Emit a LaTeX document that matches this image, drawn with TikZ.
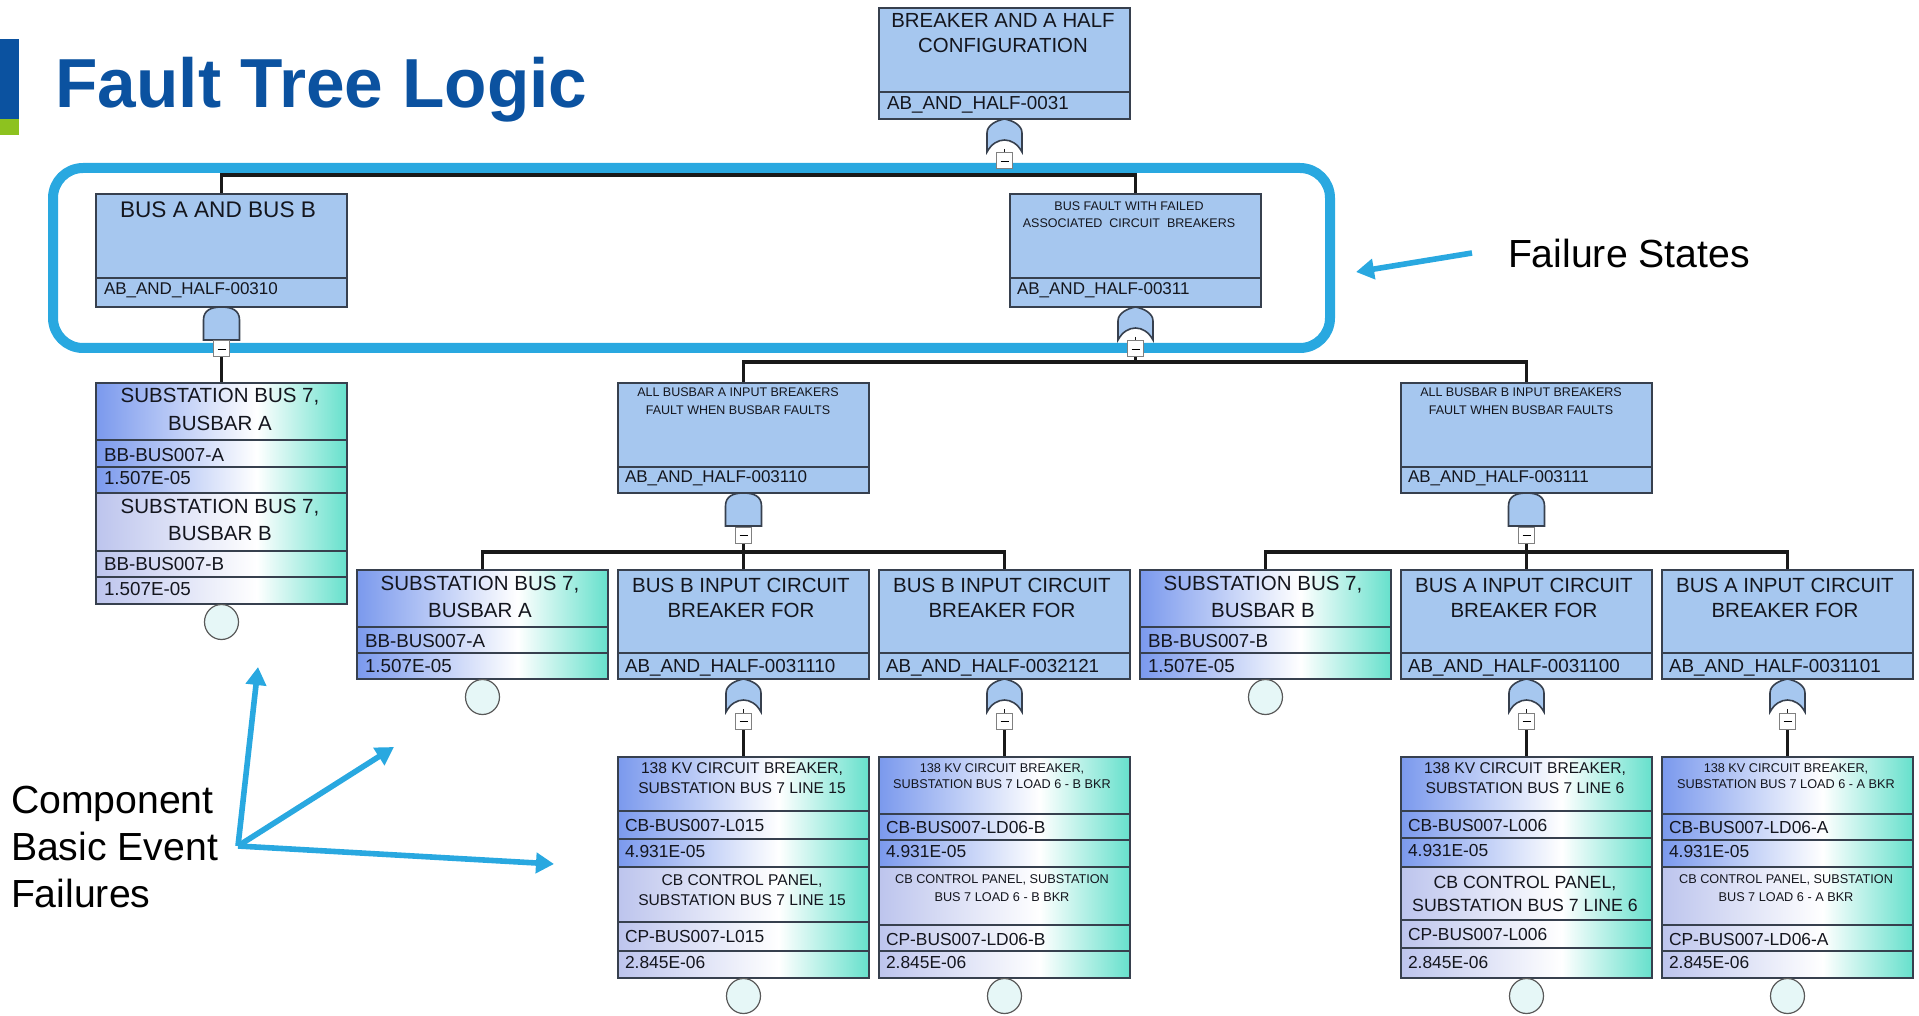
\documentclass[tikz,border=0pt]{standalone}
\usepackage{fontspec}
\setmainfont{Liberation Sans}
\usetikzlibrary{arrows.meta,shapes.geometric}
\pgfdeclarelayer{bg}
\pgfsetlayers{bg,main}
\definecolor{gatefill}{RGB}{166,199,239}
\definecolor{bordc}{RGB}{55,64,78}
\definecolor{titleblue}{RGB}{11,82,160}
\definecolor{barg}{RGB}{141,194,31}
\definecolor{hl}{RGB}{41,168,224}
\definecolor{txtc}{RGB}{20,22,30}
\definecolor{evcirc}{RGB}{230,247,247}
\pgfdeclarehorizontalshading{evA}{100bp}{rgb(0bp)=(0.48,0.60,0.93); rgb(25bp)=(0.48,0.60,0.93); rgb(57bp)=(1,1,1); rgb(75bp)=(0.40,0.88,0.80); rgb(100bp)=(0.40,0.88,0.80)}
\pgfdeclarehorizontalshading{evB}{100bp}{rgb(0bp)=(0.74,0.77,0.93); rgb(25bp)=(0.74,0.77,0.93); rgb(57bp)=(1,1,1); rgb(75bp)=(0.40,0.88,0.80); rgb(100bp)=(0.40,0.88,0.80)}
\newcommand\fTi{\fontsize{34.7pt}{36pt}\selectfont\bfseries}
\newcommand\fGa{\fontsize{10.2pt}{12pt}\selectfont}
\newcommand\fGb{\fontsize{11.3pt}{12pt}\selectfont}
\newcommand\fGs{\fontsize{6.25pt}{7pt}\selectfont}
\newcommand\fId{\fontsize{9.4pt}{10pt}\selectfont}
\newcommand\fIs{\fontsize{8.5pt}{9pt}\selectfont}
\newcommand\fEv{\fontsize{10.25pt}{12pt}\selectfont}
\newcommand\fRa{\fontsize{7.8pt}{9pt}\selectfont}
\newcommand\fRs{\fontsize{6.35pt}{7pt}\selectfont}
\newcommand\fRb{\fontsize{8.85pt}{10pt}\selectfont}
\newcommand\fRi{\fontsize{8.7pt}{10pt}\selectfont}
\newcommand\fAn{\fontsize{19.6pt}{22pt}\selectfont}
\newcommand\ctxt[5]{\node[txt,anchor=base,font=#4] (#1) at (#2,#3) {#5};}
\newcommand\ltxt[5]{\node[txt,anchor=base west,font=#4] (#1) at (#2,#3) {#5};}
\newcommand\gboxN[5]{\node[gboxs,minimum height={(#4-#3)*0.5pt}] (#1) at (#2,#3) {};\draw[bord] (#2,#5) -- ++(251,0);}
\newcommand\eboxN[7]{\node[eboxs,shade,shading=#2,minimum height={(#5-#4)*0.5pt}] (#1) at (#3,#4) {};\draw[bord] (#3,#6) -- ++(251,0);\draw[bord] (#3,#7) -- ++(251,0);}
\newcommand\orgateN[3]{\coordinate (#1) at (#2,#3);\draw[gatesty,shift={(#2,#3)}] (-17.5,33) -- (-17.5,14) .. controls (-17.5,6) and (-8,1.5) .. (0,0) .. controls (8,1.5) and (17.5,6) .. (17.5,14) -- (17.5,33) .. controls (9,17) and (-9,17) .. (-17.5,33) -- cycle;}
\newcommand\andgateN[3]{\coordinate (#1) at (#2,#3);\draw[gatesty,shift={(#2,#3)}] (-18,33) -- (-18,13) .. controls (-18,3) and (-10,0) .. (0,0) .. controls (10,0) and (18,3) .. (18,13) -- (18,33) -- cycle;}
\newcommand\kboxN[3]{\node[kboxs] (#1) at (#2,#3) {\rule{4pt}{0.4pt}};}
\begin{document}
\begin{tikzpicture}[x=0.5pt,y=-0.5pt,
 txt/.style={inner sep=0pt,outer sep=0pt,text=txtc},
 bord/.style={draw=bordc,line width=1pt},
 gboxs/.style={rectangle,draw=bordc,line width=1pt,fill=gatefill,inner sep=0pt,outer sep=0pt,anchor=north west,minimum width=125.5pt},
 eboxs/.style={rectangle,draw=bordc,line width=1pt,inner sep=0pt,outer sep=0pt,anchor=north west,minimum width=125.5pt},
 gatesty/.style={draw=bordc,line width=0.8pt,fill=gatefill},
 kboxs/.style={rectangle,draw=black!50,line width=0.5pt,fill=white,inner sep=0pt,outer sep=0pt,minimum size=8pt},
 conn/.style={draw=black!90,line width=1.6pt},
 evc/.style={ellipse,draw=black!65,fill=evcirc,line width=0.6pt,inner sep=0pt,minimum width=17pt,minimum height=17.5pt},
 hlbox/.style={draw=hl,line width=5pt,rounded corners=15pt},
 harr/.style={draw=hl,line width=2.8pt,-{Triangle[length=9pt,width=10pt]}}
]
\useasboundingbox (0,0) rectangle (1919,1016);
% title
\fill[titleblue] (0,39) rectangle (19,119);
\fill[barg] (0,119) rectangle (19,135);
\node[inner sep=0pt,anchor=base west,font=\fTi,text=titleblue] (title) at (55,108) {Fault Tree Logic};

% ---- gate boxes
\gboxN{T}{879}{8}{119}{92}
\ctxt{Tl1}{1003}{28}{\fGa}{BREAKER AND A HALF}
\ctxt{Tl2}{1003}{53}{\fGa}{CONFIGURATION}
\ltxt{Tid}{887}{110}{\fId}{AB\_AND\_HALF-0031}

\gboxN{B1}{96}{194}{307}{278}
\ctxt{B1l1}{218}{218}{\fGb}{BUS A AND BUS B}
\ltxt{B1id}{104}{295}{\fIs}{AB\_AND\_HALF-00310}

\gboxN{B2}{1010}{194}{307}{278}
\ctxt{B2l1}{1129}{211}{\fGs}{BUS FAULT WITH FAILED}
\ctxt{B2l2}{1129}{228}{\fGs}{ASSOCIATED\ \ CIRCUIT\ \ BREAKERS}
\ltxt{B2id}{1017}{295}{\fIs}{AB\_AND\_HALF-00311}

\gboxN{G3}{618}{383}{493}{467}
\ctxt{G3l1}{738}{397}{\fGs}{ALL BUSBAR A INPUT BREAKERS}
\ctxt{G3l2}{738}{415}{\fGs}{FAULT WHEN BUSBAR FAULTS}
\ltxt{G3id}{625}{482}{\fIs}{AB\_AND\_HALF-003110}

\gboxN{G4}{1401}{383}{493}{467}
\ctxt{G4l1}{1521}{397}{\fGs}{ALL BUSBAR B INPUT BREAKERS}
\ctxt{G4l2}{1521}{415}{\fGs}{FAULT WHEN BUSBAR FAULTS}
\ltxt{G4id}{1408}{482}{\fIs}{AB\_AND\_HALF-003111}

\gboxN{R1}{618}{570}{679}{653}
\ctxt{R1l1}{741}{592}{\fEv}{BUS B INPUT CIRCUIT}
\ctxt{R1l2}{741}{617}{\fEv}{BREAKER FOR}
\ltxt{R1id}{625}{672}{\fId}{AB\_AND\_HALF-0031110}

\gboxN{R2}{879}{570}{679}{653}
\ctxt{R2l1}{1002}{592}{\fEv}{BUS B INPUT CIRCUIT}
\ctxt{R2l2}{1002}{617}{\fEv}{BREAKER FOR}
\ltxt{R2id}{886}{672}{\fId}{AB\_AND\_HALF-0032121}

\gboxN{R4}{1401}{570}{679}{653}
\ctxt{R4l1}{1524}{592}{\fEv}{BUS A INPUT CIRCUIT}
\ctxt{R4l2}{1524}{617}{\fEv}{BREAKER FOR}
\ltxt{R4id}{1408}{672}{\fId}{AB\_AND\_HALF-0031100}

\gboxN{R5}{1662}{570}{679}{653}
\ctxt{R5l1}{1785}{592}{\fEv}{BUS A INPUT CIRCUIT}
\ctxt{R5l2}{1785}{617}{\fEv}{BREAKER FOR}
\ltxt{R5id}{1669}{672}{\fId}{AB\_AND\_HALF-0031101}

% ---- basic events
\eboxN{E1a}{evA}{96}{383}{493}{440}{467}
\ctxt{E1al1}{220}{403}{\fEv}{SUBSTATION BUS 7,}
\ctxt{E1al2}{220}{430}{\fEv}{BUSBAR A}
\ltxt{E1aid}{104}{461}{\fId}{BB-BUS007-A}
\ltxt{E1ap}{104}{485}{\fId}{1.507E-05}
\eboxN{E1b}{evB}{96}{493}{604}{551}{577}
\ctxt{E1bl1}{220}{513}{\fEv}{SUBSTATION BUS 7,}
\ctxt{E1bl2}{220}{540}{\fEv}{BUSBAR B}
\ltxt{E1bid}{104}{570}{\fId}{BB-BUS007-B}
\ltxt{E1bp}{104}{595}{\fId}{1.507E-05}

\eboxN{R0}{evA}{357}{570}{679}{627}{653}
\ctxt{R0l1}{480}{590}{\fEv}{SUBSTATION BUS 7,}
\ctxt{R0l2}{480}{617}{\fEv}{BUSBAR A}
\ltxt{R0id}{365}{647}{\fId}{BB-BUS007-A}
\ltxt{R0p}{365}{672}{\fId}{1.507E-05}

\eboxN{R3}{evA}{1140}{570}{679}{627}{653}
\ctxt{R3l1}{1263}{590}{\fEv}{SUBSTATION BUS 7,}
\ctxt{R3l2}{1263}{617}{\fEv}{BUSBAR B}
\ltxt{R3id}{1148}{647}{\fId}{BB-BUS007-B}
\ltxt{R3p}{1148}{672}{\fId}{1.507E-05}

\eboxN{S1a}{evA}{618}{757}{867}{811}{839}
\ctxt{S1al1}{742}{773}{\fRa}{138 KV CIRCUIT BREAKER,}
\ctxt{S1al2}{742}{793}{\fRa}{SUBSTATION BUS 7 LINE 15}
\ltxt{S1aid}{625}{831}{\fRi}{CB-BUS007-L015}
\ltxt{S1ap}{625}{857}{\fRi}{4.931E-05}
\eboxN{S1b}{evB}{618}{867}{978}{922}{951}
\ctxt{S1bl1}{742}{885}{\fRa}{CB CONTROL PANEL,}
\ctxt{S1bl2}{742}{905}{\fRa}{SUBSTATION BUS 7 LINE 15}
\ltxt{S1bid}{625}{942}{\fRi}{CP-BUS007-L015}
\ltxt{S1bp}{625}{968}{\fRi}{2.845E-06}

\eboxN{S2a}{evA}{879}{757}{867}{814}{840}
\ctxt{S2al1}{1002}{772}{\fRs}{138 KV CIRCUIT BREAKER,}
\ctxt{S2al2}{1002}{788}{\fRs}{SUBSTATION BUS 7 LOAD 6 - B BKR}
\ltxt{S2aid}{886}{833}{\fRi}{CB-BUS007-LD06-B}
\ltxt{S2ap}{886}{857}{\fRi}{4.931E-05}
\eboxN{S2b}{evB}{879}{867}{978}{925}{951}
\ctxt{S2bl1}{1002}{883}{\fRs}{CB CONTROL PANEL, SUBSTATION}
\ctxt{S2bl2}{1002}{901}{\fRs}{BUS 7 LOAD 6 - B BKR}
\ltxt{S2bid}{886}{945}{\fRi}{CP-BUS007-LD06-B}
\ltxt{S2bp}{886}{968}{\fRi}{2.845E-06}

\eboxN{S4a}{evA}{1401}{757}{867}{811}{838}
\ctxt{S4al1}{1525}{773}{\fRa}{138 KV CIRCUIT BREAKER,}
\ctxt{S4al2}{1525}{793}{\fRa}{SUBSTATION BUS 7 LINE 6}
\ltxt{S4aid}{1408}{831}{\fRi}{CB-BUS007-L006}
\ltxt{S4ap}{1408}{856}{\fRi}{4.931E-05}
\eboxN{S4b}{evB}{1401}{867}{978}{920}{948}
\ctxt{S4bl1}{1525}{888}{\fRb}{CB CONTROL PANEL,}
\ctxt{S4bl2}{1525}{911}{\fRb}{SUBSTATION BUS 7 LINE 6}
\ltxt{S4bid}{1408}{940}{\fRi}{CP-BUS007-L006}
\ltxt{S4bp}{1408}{968}{\fRi}{2.845E-06}

\eboxN{S5a}{evA}{1662}{757}{867}{814}{840}
\ctxt{S5al1}{1786}{772}{\fRs}{138 KV CIRCUIT BREAKER,}
\ctxt{S5al2}{1786}{788}{\fRs}{SUBSTATION BUS 7 LOAD 6 - A BKR}
\ltxt{S5aid}{1669}{833}{\fRi}{CB-BUS007-LD06-A}
\ltxt{S5ap}{1669}{857}{\fRi}{4.931E-05}
\eboxN{S5b}{evB}{1662}{867}{978}{925}{951}
\ctxt{S5bl1}{1786}{883}{\fRs}{CB CONTROL PANEL, SUBSTATION}
\ctxt{S5bl2}{1786}{901}{\fRs}{BUS 7 LOAD 6 - A BKR}
\ltxt{S5bid}{1669}{945}{\fRi}{CP-BUS007-LD06-A}
\ltxt{S5bp}{1669}{968}{\fRi}{2.845E-06}

% ---- basic event circles
\node[evc] (c0) at (221.5,622) {};
\node[evc] (c1) at (482.5,697) {};
\node[evc] (c2) at (1265.5,697) {};
\node[evc] (c3) at (743.5,996) {};
\node[evc] (c4) at (1004.5,996) {};
\node[evc] (c5) at (1526.5,996) {};
\node[evc] (c6) at (1787.5,996) {};

% ---- gates
\orgateN{gT}{1004.5}{119}
\andgateN{gB1}{221.5}{307}
\orgateN{gB2}{1135.5}{307}
\andgateN{gG3}{743.5}{493}
\andgateN{gG4}{1526.5}{493}
\orgateN{gR1}{743.5}{679}
\orgateN{gR2}{1004.5}{679}
\orgateN{gR4}{1526.5}{679}
\orgateN{gR5}{1787.5}{679}

% ---- highlight box
\draw[hlbox] (53,168) rectangle (1330,348);

% ---- gate connection boxes
\kboxN{kT}{1004.5}{161}
\kboxN{kB1}{221.5}{349}
\kboxN{kB2}{1135.5}{349}
\kboxN{kG3}{743.5}{535}
\kboxN{kG4}{1526.5}{535}
\kboxN{kR1}{743.5}{721}
\kboxN{kR2}{1004.5}{721}
\kboxN{kR4}{1526.5}{721}
\kboxN{kR5}{1787.5}{721}

% ---- junctions
\coordinate (J1) at (1004.5,175);
\coordinate (J2) at (1135.5,362);
\coordinate (J3) at (743.5,552);
\coordinate (J4) at (1526.5,552);

% ---- connectors
\begin{pgfonlayer}{bg}
\draw[conn] (kT.south) -- (J1);
\draw[conn] (B1.north) |- (J1) -| (B2.north);
\draw[conn] (kB1.south) -- (E1a.north);
\draw[conn] (kB2.south) -- (J2);
\draw[conn] (G3.north) |- (J2) -| (G4.north);
\draw[conn] (kG3.south) -- (J3);
\draw[conn] (R0.north) |- (J3) -| (R2.north);
\draw[conn] (J3) -- (R1.north);
\draw[conn] (kG4.south) -- (J4);
\draw[conn] (R3.north) |- (J4) -| (R5.north);
\draw[conn] (J4) -- (R4.north);
\draw[conn] (kR1.south) -- (S1a.north);
\draw[conn] (kR2.south) -- (S2a.north);
\draw[conn] (kR4.south) -- (S4a.north);
\draw[conn] (kR5.south) -- (S5a.north);
\foreach \g/\k in {gT/kT,gB1/kB1,gB2/kB2,gG3/kG3,gG4/kG4,gR1/kR1,gR2/kR2,gR4/kR4,gR5/kR5}
  \draw[conn,line width=0.8pt] (\g) ++(0,30) -- (\k.north);
\end{pgfonlayer}

% ---- annotations
\node[txt,anchor=base west,font=\fAn,text=black] (fstate) at (1508,268) {Failure States};
\coordinate (fa1) at (1472,253);
\coordinate (fa2) at (1356,272);
\draw[harr] (fa1) -- (fa2);

\node[txt,anchor=base west,font=\fAn,text=black] (cb1) at (11,813) {Component};
\node[txt,anchor=base west,font=\fAn,text=black] (cb2) at (11,860) {Basic Event};
\node[txt,anchor=base west,font=\fAn,text=black] (cb3) at (11,907) {Failures};
\coordinate (ao) at (238,846);
\coordinate (at1) at (258,667);
\coordinate (at2) at (394,747);
\coordinate (at3) at (554,864);
\draw[harr] (ao) -- (at1);
\draw[harr] (ao) -- (at2);
\draw[harr] (ao) -- (at3);
\end{tikzpicture}
\end{document}
